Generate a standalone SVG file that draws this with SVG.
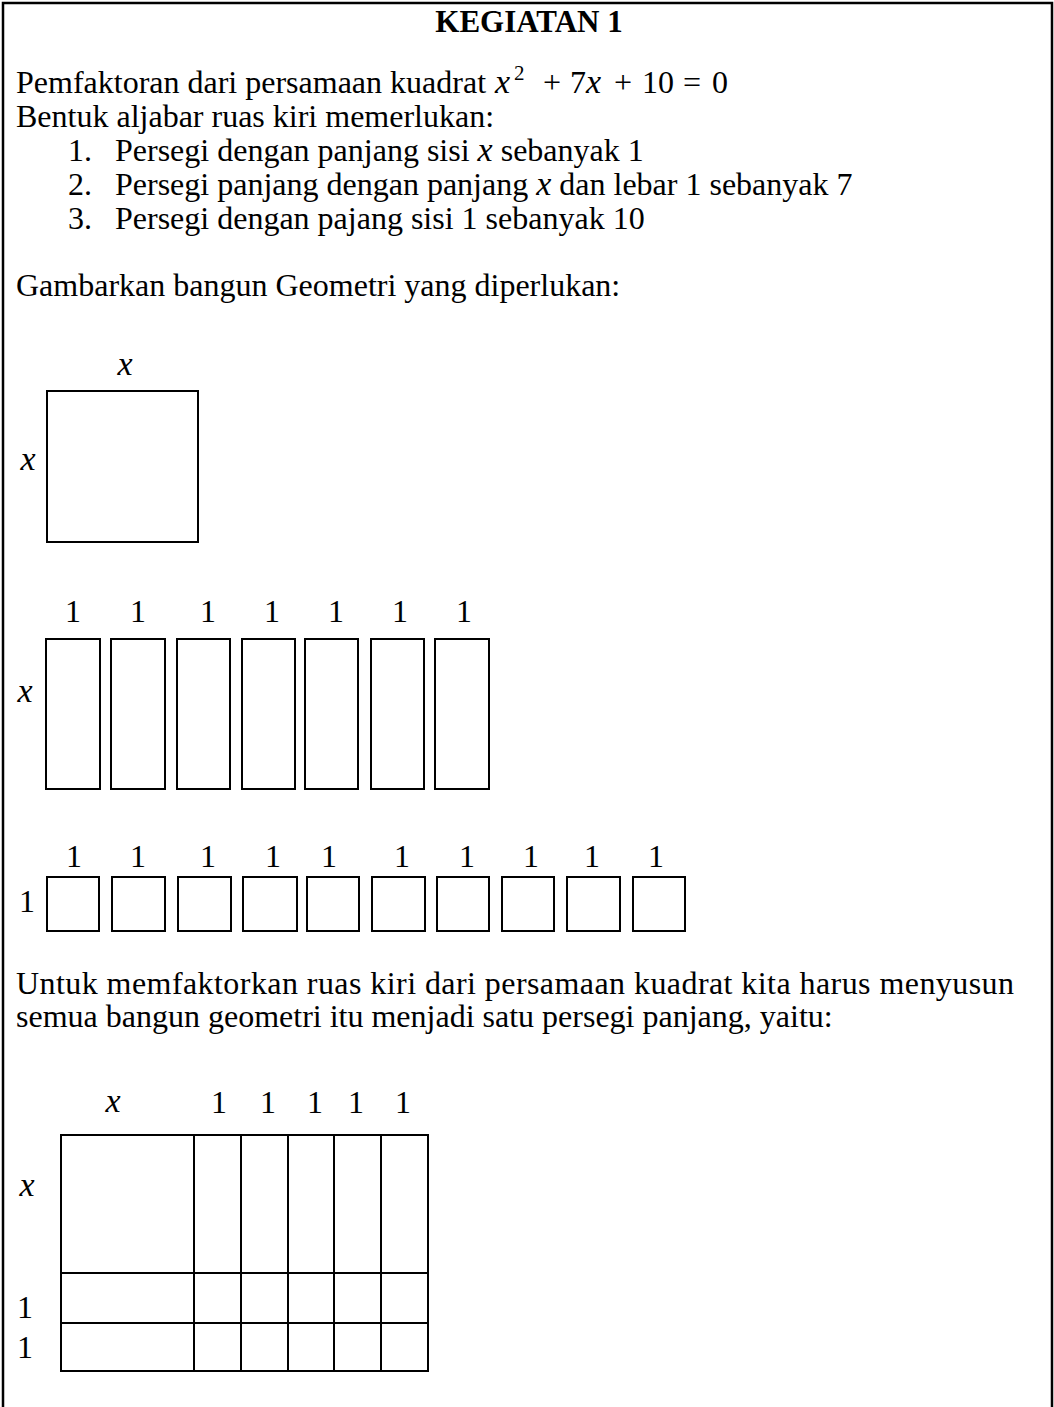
<svg xmlns="http://www.w3.org/2000/svg" width="1054" height="1407" viewBox="0 0 1054 1407">
<style>
.t{font-family:"Liberation Serif","Times New Roman",serif;font-size:32px;fill:#000}
.b{font-weight:bold;font-size:31px}
.sup{font-size:21px}
.m{font-family:"Liberation Serif","DejaVu Serif",serif;font-style:italic;font-size:34px}
.lb{font-family:"Liberation Serif",serif;font-size:32px;fill:#000;text-anchor:middle}
.lx{font-family:"Liberation Serif",serif;font-style:italic;font-size:34px;fill:#000;text-anchor:middle}
.bx{fill:none;stroke:#000;stroke-width:2}
</style>
<rect width="1054" height="1407" fill="#fff"/>
<path d="M3,1407 V3 H1052 V1407" fill="none" stroke="#000" stroke-width="2.5"/>
<g id="text">
<text class="t b" x="529" y="32" text-anchor="middle">KEGIATAN 1</text>
<text class="t" x="16" y="93">Pemfaktoran dari persamaan kuadrat</text>
<text class="m" x="495" y="93">x</text>
<text class="t sup" x="514" y="80">2</text>
<text class="t" x="543" y="93">+</text>
<text class="t" x="570" y="93">7</text>
<text class="m" x="586" y="93">x</text>
<text class="t" x="614" y="93">+</text>
<text class="t" x="642" y="93">10</text>
<text class="t" x="683" y="93">=</text>
<text class="t" x="712" y="93">0</text>
<text class="t" x="16" y="127">Bentuk aljabar ruas kiri memerlukan:</text>
<text class="t" x="68" y="161">1.</text>
<text class="t" x="115" y="161">Persegi dengan panjang sisi <tspan class="m">x</tspan> sebanyak 1</text>
<text class="t" x="68" y="195">2.</text>
<text class="t" x="115" y="195">Persegi panjang dengan panjang <tspan class="m">x</tspan> dan lebar 1 sebanyak 7</text>
<text class="t" x="68" y="229">3.</text>
<text class="t" x="115" y="229">Persegi dengan pajang sisi 1 sebanyak 10</text>
<text class="t" x="16" y="296">Gambarkan bangun Geometri yang diperlukan:</text>
<text class="t" x="16" y="994" textLength="998" lengthAdjust="spacing">Untuk memfaktorkan ruas kiri dari persamaan kuadrat kita harus menyusun</text>
<text class="t" x="16" y="1027">semua bangun geometri itu menjadi satu persegi panjang, yaitu:</text>
</g>
<g id="square-x">
<text class="lx" x="125" y="375">x</text>
<text class="lx" x="28" y="470">x</text>
<rect class="bx" x="47" y="391" width="151" height="151"/>
</g>
<g id="rects-x1">
<text class="lb" x="73" y="622">1</text>
<text class="lb" x="138" y="622">1</text>
<text class="lb" x="208" y="622">1</text>
<text class="lb" x="272" y="622">1</text>
<text class="lb" x="336" y="622">1</text>
<text class="lb" x="400" y="622">1</text>
<text class="lb" x="464" y="622">1</text>
<text class="lx" x="25" y="702">x</text>
<rect class="bx" x="46" y="639" width="54" height="150"/>
<rect class="bx" x="111" y="639" width="54" height="150"/>
<rect class="bx" x="177" y="639" width="53" height="150"/>
<rect class="bx" x="242" y="639" width="53" height="150"/>
<rect class="bx" x="305" y="639" width="53" height="150"/>
<rect class="bx" x="371" y="639" width="53" height="150"/>
<rect class="bx" x="435" y="639" width="54" height="150"/>
</g>
<g id="squares-1">
<text class="lb" x="74" y="867">1</text>
<text class="lb" x="138" y="867">1</text>
<text class="lb" x="208" y="867">1</text>
<text class="lb" x="273" y="867">1</text>
<text class="lb" x="329" y="867">1</text>
<text class="lb" x="402" y="867">1</text>
<text class="lb" x="467" y="867">1</text>
<text class="lb" x="531" y="867">1</text>
<text class="lb" x="592" y="867">1</text>
<text class="lb" x="656" y="867">1</text>
<text class="lb" x="27" y="912">1</text>
<rect class="bx" x="47" y="877" width="52" height="54"/>
<rect class="bx" x="112" y="877" width="53" height="54"/>
<rect class="bx" x="178" y="877" width="53" height="54"/>
<rect class="bx" x="243" y="877" width="54" height="54"/>
<rect class="bx" x="307" y="877" width="52" height="54"/>
<rect class="bx" x="372" y="877" width="53" height="54"/>
<rect class="bx" x="437" y="877" width="52" height="54"/>
<rect class="bx" x="502" y="877" width="52" height="54"/>
<rect class="bx" x="567" y="877" width="53" height="54"/>
<rect class="bx" x="633" y="877" width="52" height="54"/>
</g>
<g id="composite">
<text class="lx" x="113" y="1112">x</text>
<text class="lb" x="219" y="1113">1</text>
<text class="lb" x="268" y="1113">1</text>
<text class="lb" x="315" y="1113">1</text>
<text class="lb" x="356" y="1113">1</text>
<text class="lb" x="403" y="1113">1</text>
<text class="lx" x="27" y="1196">x</text>
<text class="lb" x="25" y="1318">1</text>
<text class="lb" x="25" y="1358">1</text>
<rect class="bx" x="61" y="1135" width="367" height="236"/>
<path class="bx" d="M194,1135 V1371 M241,1135 V1371 M288,1135 V1371 M334,1135 V1371 M381,1135 V1371 M61,1273 H428 M61,1323 H428"/>
</g>
<g id="connectors"/>
</svg>
